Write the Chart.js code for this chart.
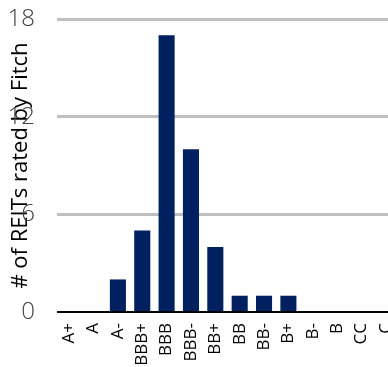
<!DOCTYPE html>
<html>
<head>
<meta charset="utf-8">
<script src="https://cdn.jsdelivr.net/npm/chart.js@4/dist/chart.umd.min.js"></script>
<style>
  html, body { margin: 0; padding: 0; background: #fff; overflow: hidden; }
  #wrap { position: relative; width: 398px; height: 367px; }
</style>
</head>
<body>
<div id="wrap"><canvas id="c"></canvas></div>
<script>
// Fitch ratings of REITs: number of issuers per rating notch
const ratings = ['A+', 'A', 'A-', 'BBB+', 'BBB', 'BBB-', 'BB+', 'BB', 'BB-', 'B+', 'B-', 'B', 'CC', 'C'];
const reitCounts = [0, 0, 2, 5, 17, 10, 4, 1, 1, 1, 0, 0, 0, 0];
const yTicks = [0, 6, 12, 18];
const axisTitle = '# of REITs rated by Fitch';

const FONT = '"Open Sans", "Segoe UI", sans-serif';

new Chart(document.getElementById('c'), {
  type: 'bar',
  data: {
    labels: ratings,
    datasets: [{
      data: reitCounts,
      backgroundColor: '#002060',
      borderWidth: 0,
      barPercentage: 0.66,
      categoryPercentage: 1
    }]
  },
  options: {
    responsive: true,
    maintainAspectRatio: false,
    animation: false,
    events: [],
    layout: { padding: { top: 19, right: 0, bottom: 0, left: 0 } },
    plugins: { legend: { display: false }, tooltip: { enabled: false } },
    scales: {
      x: {
        offset: true,
        grid: { display: false, drawTicks: false },
        border: { display: false },
        ticks: {
          autoSkip: false,
          minRotation: 90,
          maxRotation: 90,
          padding: 11,
          color: '#000',
          font: { family: FONT, size: 17 }
        },
        afterFit(scale) {
          scale.height = 55;
          scale.paddingLeft = 0;
          scale.paddingRight = 0;
        }
      },
      y: {
        min: 0,
        max: 18,
        afterBuildTicks(scale) { scale.ticks = yTicks.map(v => ({ value: v })); },
        grid: {
          drawTicks: false,
          color: (c) => c.tick && c.tick.value === 0 ? '#000' : '#bfbfbf',
          lineWidth: (c) => c.tick && c.tick.value === 0 ? 2 : 3
        },
        border: { display: false },
        ticks: {
          padding: 22,
          color: '#404040',
          font: { family: FONT, size: 24, weight: '300' }
        },
        title: {
          display: true,
          text: axisTitle,
          color: '#000',
          padding: { top: 8, bottom: 0 },
          font: { family: FONT, size: 22 }
        },
        afterFit(scale) {
          scale.width = 57;
          scale.paddingTop = 0;
          scale.paddingBottom = 0;
        }
      }
    }
  }
});
</script>
</body>
</html>
